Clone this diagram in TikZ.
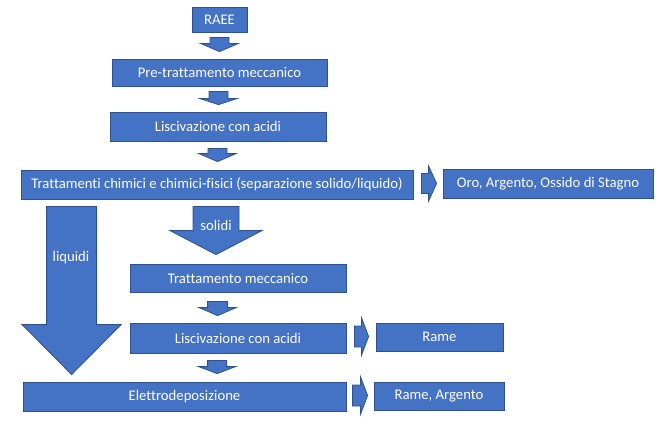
\documentclass[tikz,border=0pt]{standalone}
\usepackage{fontspec}
\setmainfont{Carlito}[Ligatures=NoCommon]
\usetikzlibrary{calc}
\definecolor{boxblue}{HTML}{4472C4}
\definecolor{boxedge}{HTML}{2F528F}
\tikzset{
  stepbox/.style={draw=boxedge, fill=boxblue, line width=0.8pt, text=white,
    font=\fontsize{14.7}{17}\selectfont, inner sep=0pt},
  fatarrow/.style={draw=boxedge, fill=boxblue, line width=0.8pt, line join=miter},
  arrowtext/.style={text=white, font=\fontsize{14.7}{17}\selectfont, inner sep=0pt}
}
% block arrows: from, to, shaft half width, head half width, head length
\newcommand{\fatdown}[5]{%
  \path #1 coordinate (fa-from) #2 coordinate (fa-to);
  \draw[fatarrow] ($(fa-from)+(-#3,0)$) -- ($(fa-from)+(#3,0)$)
    -- ($(fa-from|-fa-to)+(#3,-#5)$) -- ($(fa-from|-fa-to)+(#4,-#5)$) -- (fa-to)
    -- ($(fa-from|-fa-to)+(-#4,-#5)$) -- ($(fa-from|-fa-to)+(-#3,-#5)$) -- cycle;
}
\newcommand{\fatright}[5]{%
  \path #1 coordinate (fa-from) #2 coordinate (fa-to);
  \draw[fatarrow] ($(fa-from)+(0,-#3)$) -- ($(fa-to|-fa-from)+(-#5,-#3)$)
    -- ($(fa-to|-fa-from)+(-#5,-#4)$) -- (fa-to|-fa-from)
    -- ($(fa-to|-fa-from)+(-#5,#4)$) -- ($(fa-to|-fa-from)+(-#5,#3)$)
    -- ($(fa-from)+(0,#3)$) -- cycle;
}

\begin{document}
\begin{tikzpicture}[x=1pt, y=-1pt]
  \useasboundingbox (0,0) rectangle (658,421);

  \node[stepbox, minimum width=55, minimum height=25] (raee) at (219.5,19.5) {RAEE};
  \node[stepbox, minimum width=215, minimum height=27] (pretratt) at (219.5,72.5) {Pre-trattamento meccanico};
  \node[stepbox, minimum width=216, minimum height=29] (lisca) at (218,126.5) {Liscivazione con acidi};
  \node[stepbox, minimum width=392, minimum height=29] (tratt) at (217,184.5) {Trattamenti chimici e chimici-fisici (separazione solido/liquido)};
  \node[stepbox, minimum width=210, minimum height=29] (oro) at (548,183.5) {Oro, Argento, Ossido di Stagno};
  \node[stepbox, minimum width=216, minimum height=28] (mecc) at (238,278) {Trattamento meccanico};
  \node[stepbox, minimum width=216, minimum height=30] (liscb) at (238,338) {Liscivazione con acidi};
  \node[stepbox, minimum width=323, minimum height=29] (elettro) at (184.5,396.5) {Elettrodeposizione};
  \node[stepbox, minimum width=127, minimum height=28] (rame) at (439.5,337) {Rame};
  \node[stepbox, minimum width=130, minimum height=28] (ramearg) at (439,396) {Rame, Argento};

  \fatdown{($(raee.south)+(0,5)$)}{($(raee.south|-pretratt.north)+(0,-7)$)}{9.5}{18.5}{8}
  \fatdown{($(pretratt.south)+(-1,5)$)}{($(pretratt.south|-lisca.north)+(-1,-7)$)}{9.5}{18.5}{6}
  \fatdown{($(lisca.south)+(-0.5,7)$)}{($(lisca.south|-tratt.north)+(-0.5,-8)$)}{9.5}{18.5}{8}
  \fatdown{($(tratt.south)+(-1,7)$)}{($(tratt.south|-mecc.north)+(-1,-9)$)}{23}{46}{24}
  \fatdown{($(tratt.south west)+(51,7)$)}{($(elettro.north west)+(49,-7)$)}{25}{49.5}{50}
  \fatdown{($(mecc.south west)+(88,9)$)}{($(liscb.north west)+(88,-7)$)}{10}{18.5}{8}
  \fatdown{($(liscb.south west)+(87.5,7)$)}{($(elettro.north west)+(194.5,-8)$)}{9.5}{18.5}{7}
  \fatright{($(tratt.east)+(8,-1)$)}{($(oro.west)+(-6,0)$)}{10}{17.5}{8}
  \fatright{($(liscb.east)+(8,-1.5)$)}{($(rame.west)+(-7,0)$)}{10.5}{18.5}{7}
  \fatright{($(elettro.east)+(6,-1)$)}{($(ramearg.west)+(-6,0)$)}{10.5}{18.5}{7}

  \node[arrowtext] (solidi) at (216,225) {solidi};
  \node[arrowtext] (liquidi) at (71,258) {liquidi};
\end{tikzpicture}
\end{document}
